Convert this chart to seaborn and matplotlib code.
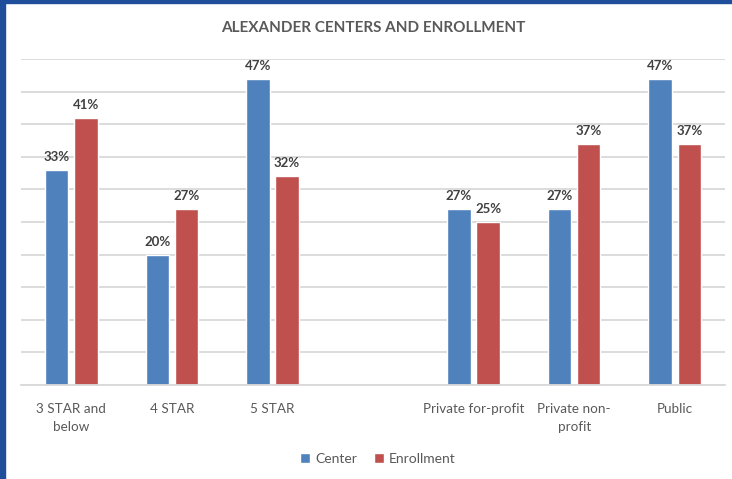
import matplotlib
matplotlib.use("Agg")
import matplotlib.pyplot as plt
import matplotlib.patches as mpatches
import seaborn as sns
import pandas as pd

categories = ["3 STAR and\nbelow", "4 STAR", "5 STAR", " ", "Private for-profit", "Private non-\nprofit", "Public"]
center_cats = ["3 STAR and\nbelow", "4 STAR", "5 STAR", "Private for-profit", "Private non-\nprofit", "Public"]
center = [33, 20, 47, 27, 27, 47]
enrollment = [41, 27, 32, 25, 37, 37]
series = ["Center", "Enrollment"]
colors = ["#4F81BD", "#C0504D"]

df = pd.DataFrame({
    "category": center_cats + center_cats,
    "value": center + enrollment,
    "series": [series[0]] * len(center) + [series[1]] * len(enrollment),
})

sns.set_theme(style="white")
plt.rcParams["font.family"] = ["Lato", "DejaVu Sans"]

fig = plt.figure(figsize=(7.32, 4.79), dpi=100)
ax = fig.add_axes([21 / 732, 1 - 385 / 479, (725 - 21) / 732, (385 - 59) / 479])

sns.barplot(data=df, x="category", y="value", hue="series", order=categories,
            hue_order=series, palette=colors, width=0.58, gap=0.2, ax=ax,
            saturation=1, legend=True)

ax.set_ylim(0, 50)
ax.set_xlim(-0.5, len(categories) - 0.5)
ax.set_yticks(range(0, 55, 5))
ax.yaxis.grid(True, color="#D9D9D9", linewidth=1.3)
ax.set_axisbelow(True)
ax.tick_params(axis="y", left=False, labelleft=False)
ax.tick_params(axis="x", bottom=False, pad=7, labelsize=9.7, labelcolor="#595959")
for lab in ax.get_xticklabels():
    lab.set_linespacing(1.55)
    lab.set_verticalalignment("top")
for s in ["top", "right", "left"]:
    ax.spines[s].set_visible(False)
ax.spines["bottom"].set_color("#D9D9D9")
ax.spines["bottom"].set_linewidth(1.3)
ax.set_xlabel("")
ax.set_ylabel("")

for cont in ax.containers:
    ax.bar_label(cont, fmt="%.0f%%", padding=5, fontsize=9.5, fontweight="bold", color="#404040")

leg = ax.legend(loc="center", bbox_to_anchor=(378 / 732, 1 - 459 / 479), bbox_transform=fig.transFigure,
                ncol=2, frameon=False, fontsize=10, handlelength=0.7, handleheight=0.7,
                handletextpad=0.4, columnspacing=1.2)
for t in leg.get_texts():
    t.set_color("#595959")

fig.text(373 / 732, 1 - 28 / 479, "ALEXANDER CENTERS AND ENROLLMENT", ha="center", va="center",
         fontsize=11, fontweight="bold", color="#595959")

border = "#1F4E9A"
fig.patches.append(mpatches.Rectangle((0, 0), 5 / 732, 1, transform=fig.transFigure, color=border, zorder=10))
fig.patches.append(mpatches.Rectangle((0, 1 - 3 / 479), 1, 3 / 479, transform=fig.transFigure, color=border, zorder=10))

fig.savefig("out.png", dpi=100)
